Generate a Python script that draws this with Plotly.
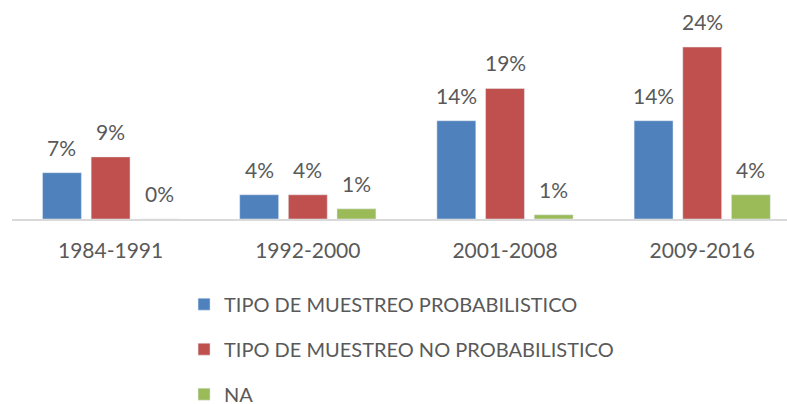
import plotly.graph_objects as go

categories = ["1984-1991", "1992-2000", "2001-2008", "2009-2016"]
series_names = ["TIPO DE MUESTREO PROBABILISTICO", "TIPO DE MUESTREO NO PROBABILISTICO", "NA"]
prob_values = [6.6, 3.45, 14.0, 14.0]
noprob_values = [8.85, 3.45, 18.6, 24.5]
na_values = [0.0, 1.45, 0.6, 3.45]
prob_labels = ["7%", "4%", "14%", "14%"]
noprob_labels = ["9%", "4%", "19%", "24%"]
na_labels = ["0%", "1%", "1%", "4%"]

colors = ["#4F81BD", "#C0504D", "#9BBB59"]
FONT = "Lato"
TXT = "#595959"
BARGAP = 0.26

fig = go.Figure()
all_vals = [prob_values, noprob_values, na_values]
all_labels = [prob_labels, noprob_labels, na_labels]
for k, (name, vals, col) in enumerate(zip(series_names, all_vals, colors)):
    fig.add_trace(go.Bar(
        x=categories, y=vals, name=name, marker_color=col,
        legendgroup=f"g{k}", hoverinfo="skip",
    ))

annotations = []
slot = (1 - BARGAP) / 3
for k, (vals, labs) in enumerate(zip(all_vals, all_labels)):
    for i, (v, t) in enumerate(zip(vals, labs)):
        annotations.append(dict(
            x=i + (k - 1) * slot, y=v, xref="x", yref="y", text=t,
            showarrow=False, yanchor="bottom", yshift=11,
            font=dict(family=FONT, size=21, color=TXT),
        ))

fig.update_layout(
    width=787, height=404,
    margin=dict(l=12, r=0, t=20, b=185, autoexpand=False),
    barmode="group", bargap=BARGAP, bargroupgap=0.2,
    plot_bgcolor="white", paper_bgcolor="white",
    font=dict(family=FONT, size=20, color=TXT),
    xaxis=dict(
        type="category", range=[-0.5, 3.43], showline=True, linecolor="#D9D9D9", linewidth=2,
        showgrid=False, ticks="", ticklabelstandoff=12,
        tickfont=dict(family=FONT, size=21, color=TXT),
    ),
    yaxis=dict(range=[0, 28.35], visible=False, showgrid=False, zeroline=False),
    legend=dict(
        orientation="v", x=0.222, xanchor="left", y=-0.33, yanchor="top",
        font=dict(family=FONT, size=20, color=TXT), tracegroupgap=16,
        bgcolor="rgba(0,0,0,0)",
    ),
    annotations=annotations,
    showlegend=True,
)

fig.write_html(
    "out.html",
    config={"displayModeBar": False},
    post_script="document.body.style.margin='0';document.body.style.overflow='hidden';",
)
